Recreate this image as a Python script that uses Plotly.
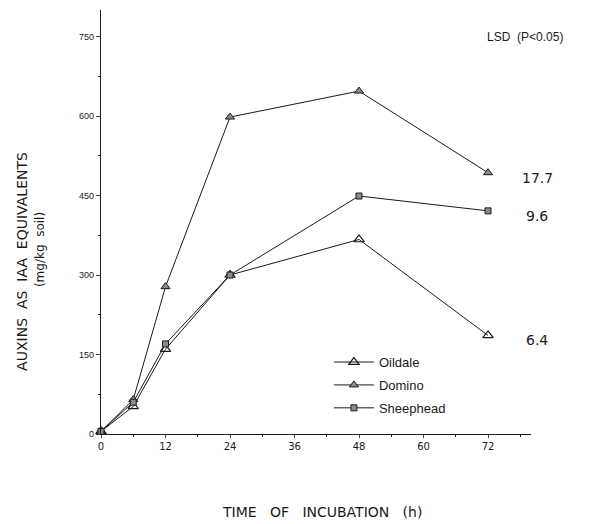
import plotly.graph_objects as go

hours = [0, 6, 12, 24, 48, 72]
oildale = [5, 52, 160, 300, 367, 186]
domino = [5, 65, 278, 598, 647, 493]
sheephead = [5, 60, 170, 300, 449, 421]

lsd_values = ["17.7", "9.6", "6.4"]
lsd_levels = [493, 421, 186]

x_ticks = [0, 12, 24, 36, 48, 60, 72]
y_ticks = [0, 150, 300, 450, 600, 750]

FONT = "Liberation Sans, Arial, sans-serif"
TFONT = "DejaVu Sans, sans-serif"
INK = "#1a1a1a"

fig = go.Figure()
fig.add_trace(go.Scatter(
    x=hours, y=oildale, name="Oildale", legendgroup="a", mode="lines+markers",
    line=dict(color=INK, width=1),
    marker=dict(symbol="triangle-up-open", size=9, color=INK, line=dict(width=1.2)),
    cliponaxis=False))
fig.add_trace(go.Scatter(
    x=hours, y=domino, name="Domino", legendgroup="b", mode="lines+markers",
    line=dict(color=INK, width=1),
    marker=dict(symbol="triangle-up", size=8, color="#8a8a8a", line=dict(color=INK, width=1)),
    cliponaxis=False))
fig.add_trace(go.Scatter(
    x=hours, y=sheephead, name="Sheephead", legendgroup="c", mode="lines+markers",
    line=dict(color=INK, width=1),
    marker=dict(symbol="square", size=6, color="#8a8a8a", line=dict(color=INK, width=1)),
    cliponaxis=False))

annotations = [
    dict(text="LSD  (P<0.05)", xref="paper", yref="paper", x=0.893, y=0.936,
         xanchor="left", yanchor="middle", showarrow=False,
         font=dict(family=FONT, size=12, color=INK)),
    dict(text="AUXINS  AS  IAA  EQUIVALENTS", xref="paper", yref="paper",
         x=-0.184, y=0.408, textangle=-90, xanchor="center", yanchor="middle",
         showarrow=False, font=dict(family=TFONT, size=14, color=INK)),
    dict(text="(mg/kg  soil)", xref="paper", yref="paper",
         x=-0.142, y=0.436, textangle=-90, xanchor="center", yanchor="middle",
         showarrow=False, font=dict(family=TFONT, size=12, color=INK)),
    dict(text="TIME   OF   INCUBATION   (h)", xref="paper", yref="paper",
         x=0.514, y=-0.184, xanchor="center", yanchor="middle",
         showarrow=False, font=dict(family=TFONT, size=14, color=INK)),
]
for txt, lvl in zip(lsd_values, lsd_levels):
    annotations.append(dict(text=txt, xref="paper", yref="y", x=1.014, y=lvl,
                            xanchor="center", yanchor="middle", yshift=-5,
                            showarrow=False, font=dict(family=TFONT, size=14, color=INK)))

fig.update_layout(
    width=586, height=516,
    margin=dict(l=93, r=63, t=2, b=90),
    paper_bgcolor="white", plot_bgcolor="white",
    font=dict(family=FONT, color=INK),
    showlegend=True,
    legend=dict(x=0.53, y=0.205, xanchor="left", yanchor="top",
                bgcolor="rgba(0,0,0,0)", font=dict(family=FONT, size=13, color=INK),
                tracegroupgap=3, itemwidth=40),
    annotations=annotations,
)
fig.update_xaxes(range=[0, 80], tickvals=x_ticks, ticks="outside", ticklen=3,
                 showline=True, linecolor=INK, linewidth=1.2, showgrid=False,
                 zeroline=False, tickfont=dict(family=TFONT, size=10, color=INK),
                 minor=dict(dtick=6, ticks="outside", ticklen=2, tickcolor=INK))
fig.update_yaxes(range=[0, 800], tickvals=y_ticks, ticks="outside", ticklen=4,
                 showline=True, linecolor=INK, linewidth=1.2, showgrid=False,
                 zeroline=False, tickfont=dict(family=FONT, size=9, color=INK),
                 minor=dict(dtick=75, ticks="outside", ticklen=2, tickcolor=INK))

fig.write_html("out.html")
